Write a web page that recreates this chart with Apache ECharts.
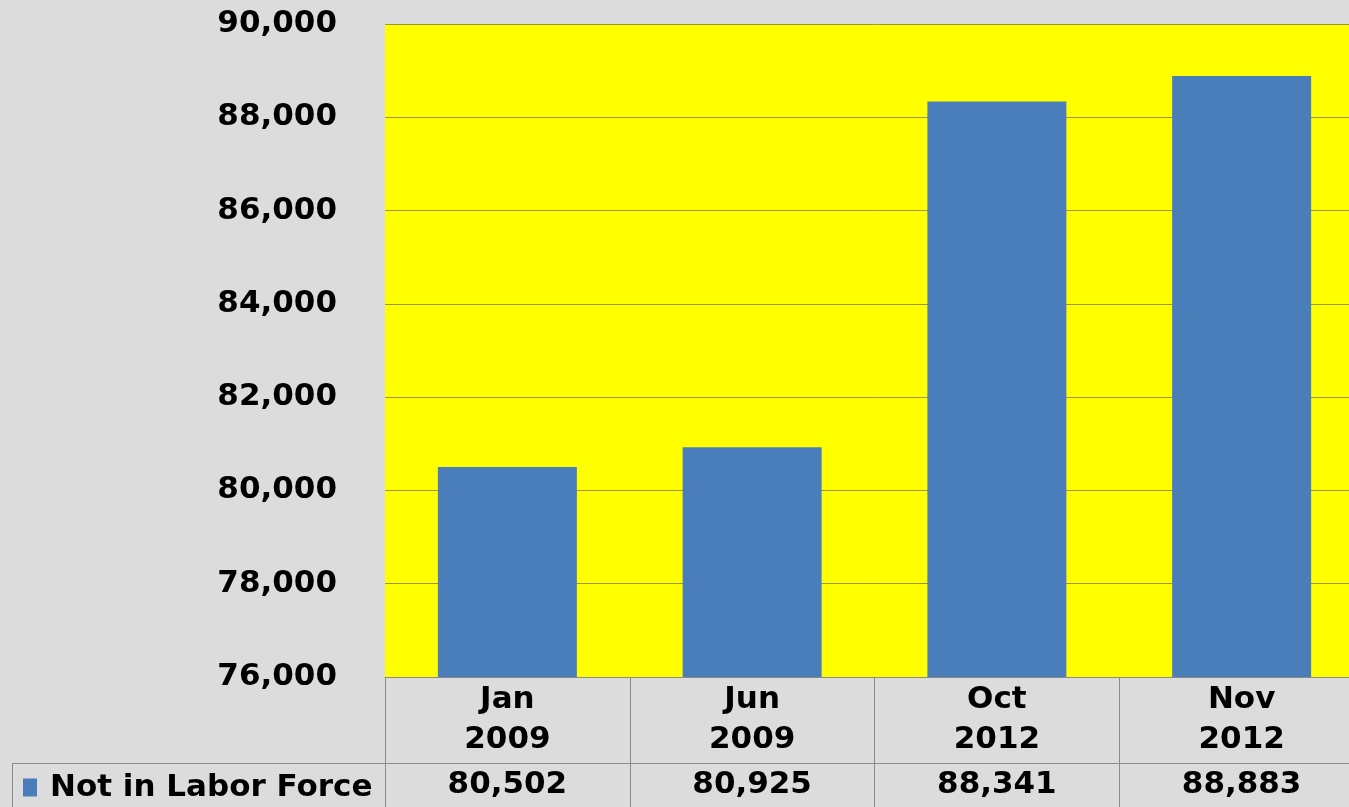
<!DOCTYPE html>
<html>
<head>
<meta charset="utf-8">
<script src="https://cdn.jsdelivr.net/npm/echarts@6/dist/echarts.min.js"></script>
<style>
  html, body { margin: 0; padding: 0; background: #dcdcdc; overflow: hidden; }
  /* 画布比窗口宽一点，绘图区右侧被裁掉 */
  #chart { width: 1364px; height: 807px; }
</style>
</head>
<body>
<div id="chart"></div>
<script>
// 数据
const months = ['Jan', 'Jun', 'Oct', 'Nov']
const years = ['2009', '2009', '2012', '2012']
const notInLaborForce = [80502, 80925, 88341, 88883]
const seriesName = 'Not in Labor Force'

const FONT = 'DejaVu Sans'
const categories = months.map((m, i) => m + '\n' + years[i])
const valueLabels = notInLaborForce.map(v => v.toLocaleString('en-US'))

const chart = echarts.init(document.getElementById('chart'), null, { renderer: 'canvas' })

chart.setOption({
  backgroundColor: '#dcdcdc',
  animation: false,
  textStyle: { fontFamily: FONT },
  grid: { left: 385, top: 24, right: 0, bottom: 130, containLabel: false },
  legend: {
    data: [seriesName],
    left: 18,
    top: 767,
    itemWidth: 14,
    itemHeight: 18,
    icon: 'rect',
    textStyle: {
      fontFamily: FONT, fontWeight: 'bold', fontSize: 31, color: '#000',
      padding: [0, 0, 0, 8]
    }
  },
  xAxis: [
    {
      type: 'category',
      data: categories,
      axisLine: { lineStyle: { color: '#8a8a8a', width: 1 } },
      axisTick: { show: true, length: 130, lineStyle: { color: '#8a8a8a' } },
      axisLabel: {
        color: '#000', fontFamily: FONT, fontWeight: 'bold', fontSize: 31,
        lineHeight: 40, margin: 3
      }
    },
    {
      type: 'category',
      position: 'bottom',
      offset: 86,
      data: valueLabels,
      axisLine: { show: false },
      axisTick: { show: false },
      axisLabel: {
        color: '#000', fontFamily: FONT, fontWeight: 'bold', fontSize: 31,
        lineHeight: 40, margin: 2
      }
    }
  ],
  yAxis: {
    type: 'value',
    min: 76000,
    max: 90000,
    interval: 2000,
    axisLine: { show: false },
    axisTick: { show: false },
    splitLine: { lineStyle: { color: '#9a9440', width: 1 } },
    axisLabel: {
      color: '#000', fontFamily: FONT, fontWeight: 'bold', fontSize: 31,
      margin: 48,
      formatter: v => v.toLocaleString('en-US')
    }
  },
  series: [
    {
      name: seriesName,
      type: 'bar',
      data: notInLaborForce,
      barWidth: 139,
      itemStyle: { color: '#4a7ebb' }
    }
  ],
  graphic: [
    // 绘图区黄色背景
    {
      type: 'rect', z: -1, silent: true,
      shape: { x: 385, y: 24, width: 979, height: 653 },
      style: { fill: '#ffff00' }
    },
    // 数据表横线
    {
      type: 'line', silent: true,
      shape: { x1: 12, y1: 763.5, x2: 1364, y2: 763.5 },
      style: { stroke: '#8a8a8a', lineWidth: 1 }
    },
    {
      type: 'line', silent: true,
      shape: { x1: 12.5, y1: 763, x2: 12.5, y2: 807 },
      style: { stroke: '#8a8a8a', lineWidth: 1 }
    }
  ]
})
</script>
</body>
</html>
